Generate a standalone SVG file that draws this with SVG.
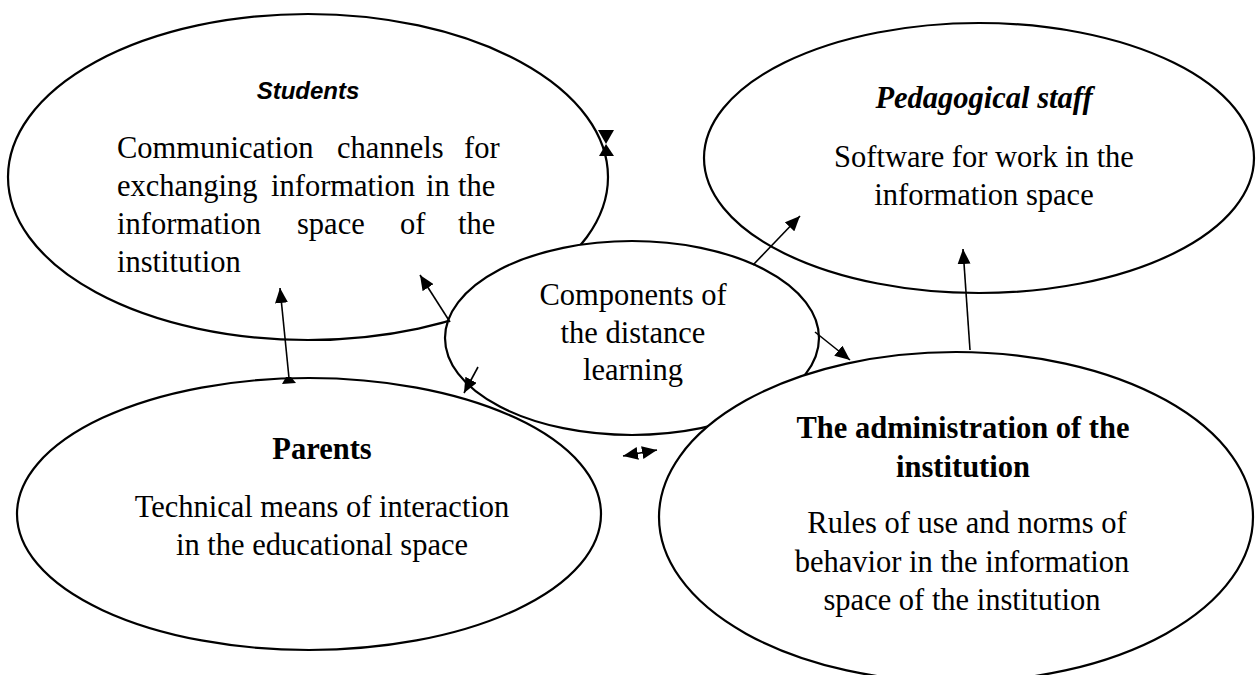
<svg xmlns="http://www.w3.org/2000/svg" width="1256" height="675" viewBox="0 0 1256 675">
<style>
.node{fill:#fff;stroke:#000;stroke-width:2.2}
.t{font-family:"Liberation Serif","Times New Roman",serif;font-size:30.5px;fill:#000}
.c{text-anchor:middle}
.b{font-weight:bold}
.bi{font-weight:bold;font-style:italic}
.sans{font-family:"Liberation Sans",Arial,sans-serif;font-size:24px;font-weight:bold;font-style:italic;text-anchor:middle}
.conn line{stroke:#000;stroke-width:1.6}
</style>
<defs>
<marker id="ah" markerUnits="userSpaceOnUse" markerWidth="16" markerHeight="13" refX="15" refY="6.5" orient="auto-start-reverse">
<path d="M0,0 L15,6.5 L0,13 z" fill="#000"/>
</marker>
</defs>
<rect width="1256" height="675" fill="#fff"/>
<g id="students">
<ellipse class="node" cx="308" cy="177" rx="300" ry="163"/>
<text class="sans" x="308" y="99">Students</text>
<text class="t" y="158"><tspan x="117">Communication</tspan><tspan x="337">channels</tspan><tspan x="464">for</tspan></text>
<text class="t" y="196"><tspan x="117">exchanging</tspan><tspan x="271">information</tspan><tspan x="426">in</tspan><tspan x="458">the</tspan></text>
<text class="t" y="234"><tspan x="117">information</tspan><tspan x="297">space</tspan><tspan x="400">of</tspan><tspan x="458">the</tspan></text>
<text class="t" x="117" y="272">institution</text>
</g>
<g id="center">
<ellipse class="node" cx="632" cy="338" rx="187" ry="97"/>
<text class="t c" x="633" y="305">Components of</text>
<text class="t c" x="633" y="343">the distance</text>
<text class="t c" x="633" y="380">learning</text>
</g>
<g id="parents">
<ellipse class="node" cx="309" cy="514" rx="292" ry="136"/>
<text class="t c b" x="322" y="459">Parents</text>
<text class="t c" x="322" y="517">Technical means of interaction</text>
<text class="t c" x="322" y="555">in the educational space</text>
</g>
<g id="administration">
<ellipse class="node" cx="956" cy="517" rx="297" ry="165"/>
<text class="t c b" x="963" y="438">The administration of the</text>
<text class="t c b" x="963" y="477">institution</text>
<text class="t c" x="967" y="533">Rules of use and norms of</text>
<text class="t c" x="962" y="572">behavior in the information</text>
<text class="t c" x="962" y="610">space of the institution</text>
</g>
<g id="pedagogical">
<ellipse class="node" cx="979" cy="158" rx="275" ry="135"/>
<text class="t c bi" x="984" y="108">Pedagogical staff</text>
<text class="t c" x="984" y="167">Software for work in the</text>
<text class="t c" x="984" y="205">information space</text>
</g>
<g id="connectors" class="conn">
<polygon points="598,130 614,130 606,144" fill="#000"/>
<polygon points="606,144 599,156 614,156" fill="#000"/>
<line x1="289" y1="378" x2="280" y2="288" marker-end="url(#ah)"/>
<polygon points="282,384 296,383 291,377 286,377" fill="#000"/>
<line x1="450" y1="322" x2="420" y2="275" marker-end="url(#ah)"/>
<line x1="478" y1="367" x2="464" y2="393" marker-end="url(#ah)"/>
<line x1="623" y1="456" x2="657" y2="450" marker-start="url(#ah)" marker-end="url(#ah)"/>
<line x1="753" y1="265" x2="800" y2="216" marker-end="url(#ah)"/>
<line x1="815" y1="332" x2="850" y2="360" marker-end="url(#ah)"/>
<line x1="970" y1="350" x2="963" y2="249" marker-end="url(#ah)"/>
</g>
</svg>
